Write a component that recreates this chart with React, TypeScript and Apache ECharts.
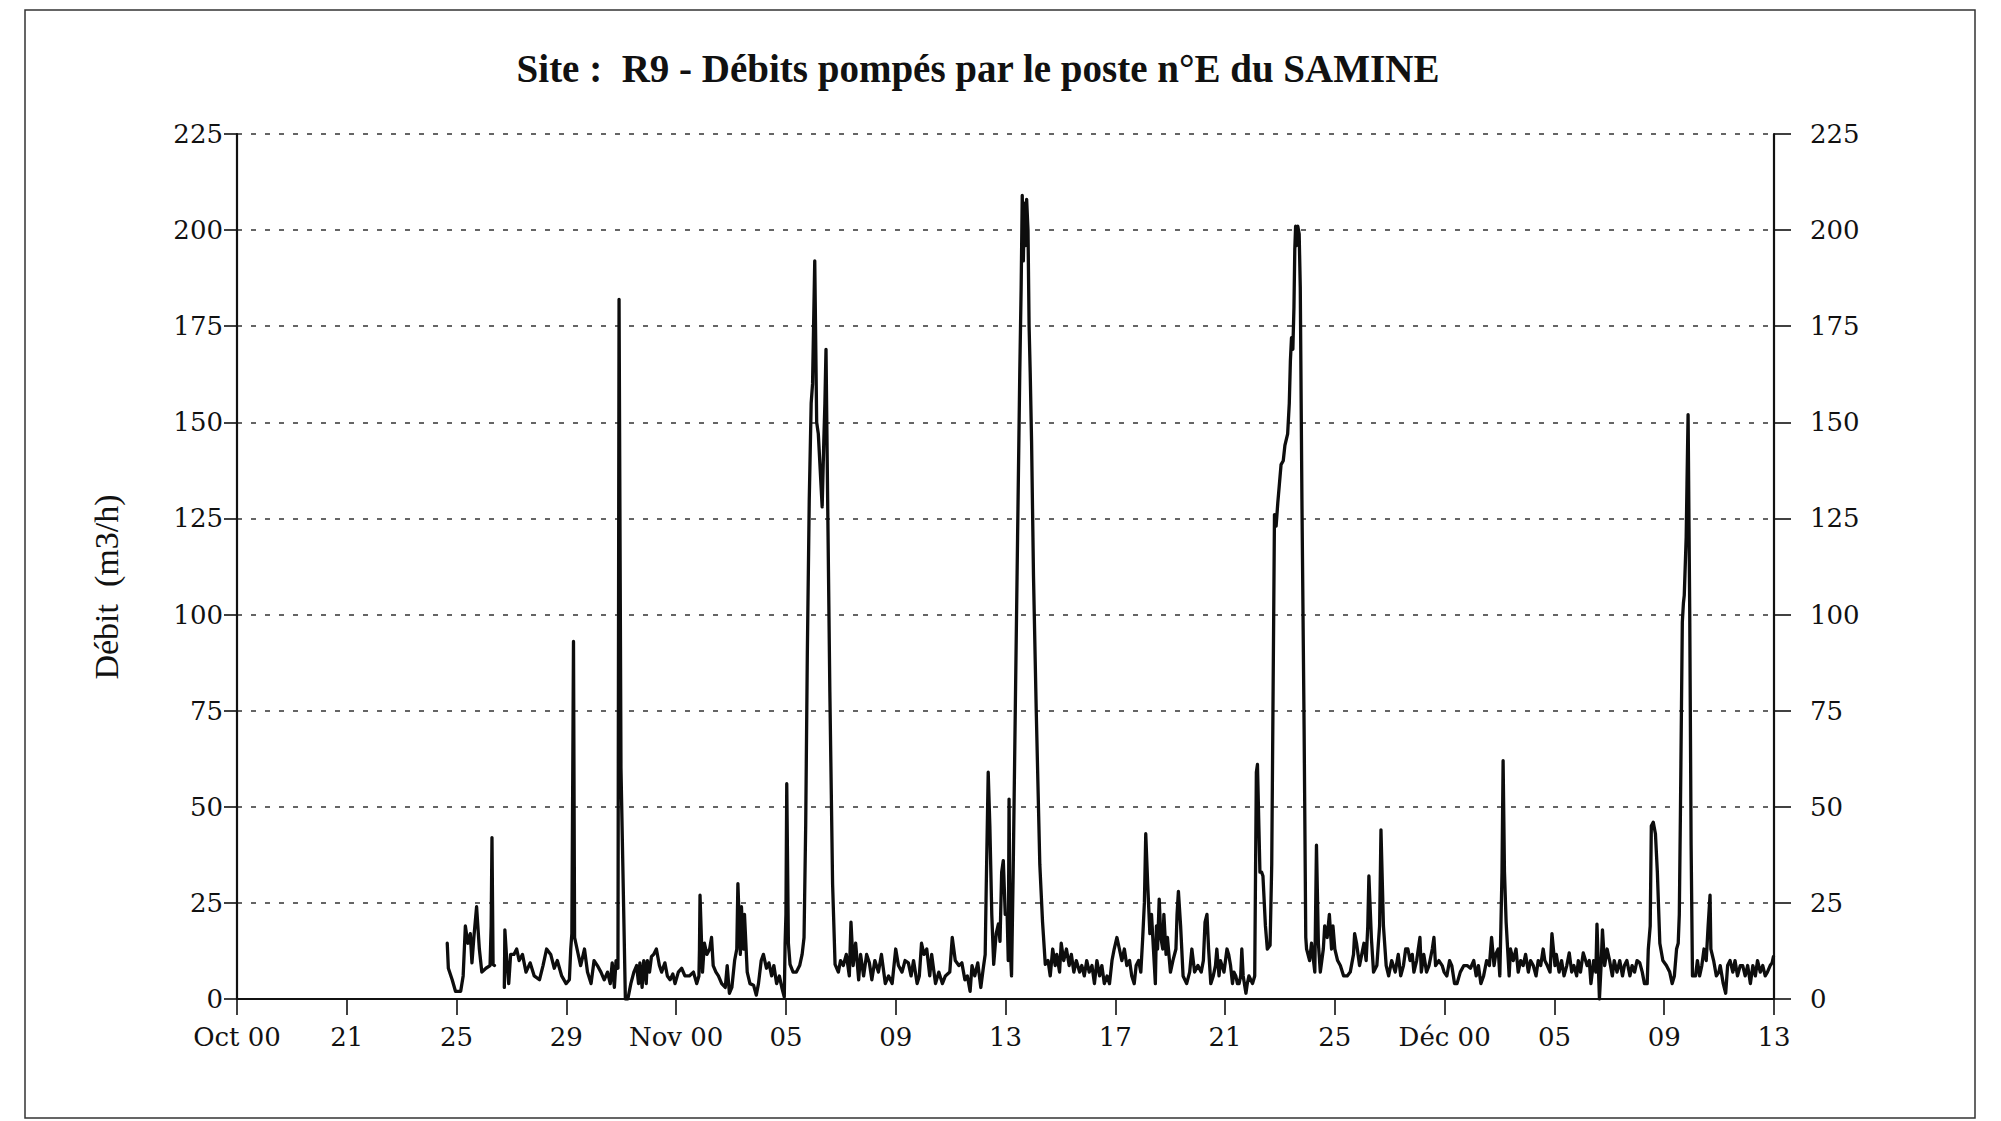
import React, { useEffect, useRef } from "react";
import * as echarts from "echarts";

type Pt = [number, number | null];

// x = days after the "Oct 00" tick (ticks every 4 days), y = débit (m3/h)
const xTickLabels = ["Oct 00", "21", "25", "29", "Nov 00", "05", "09", "13", "17", "21", "25", "Déc 00", "05", "09", "13"];
const yTickStep = 25;
const yTickMax = 225;
const xMax = 56;

const lateOctober: Pt[] = [
  [7.66, 14.5], [7.70, 8], [7.84, 5], [7.96, 2], [8.15, 2], [8.24, 6], [8.32, 19], [8.41, 14.5], [8.50, 17],
  [8.56, 9.4], [8.63, 16], [8.73, 24], [8.83, 13], [8.92, 7], [9.07, 8], [9.22, 8.7], [9.26, 19], [9.29, 42],
  [9.33, 9], [9.38, 8.7], [9.55, null],
  [9.74, 3], [9.76, 18], [9.83, 10], [9.90, 4], [9.97, 11.6], [10.09, 11.6], [10.19, 13], [10.28, 10], [10.40, 11.6],
  [10.53, 7], [10.68, 9.4], [10.83, 6], [11.02, 5], [11.15, 8.7], [11.28, 13], [11.43, 11.6], [11.56, 8], [11.67, 10],
  [11.83, 6], [11.99, 4], [12.11, 5], [12.16, 13], [12.20, 17], [12.26, 93], [12.30, 16], [12.39, 13], [12.52, 8.7],
  [12.66, 13], [12.77, 7], [12.90, 4], [13.01, 10], [13.13, 8.7], [13.26, 7], [13.38, 5], [13.50, 7], [13.60, 4],
  [13.67, 9.4], [13.75, 3], [13.81, 10], [13.88, 8], [13.92, 182], [13.99, 60], [14.15, 0], [14.24, 0], [14.35, 4],
];

const earlyNovember: Pt[] = [
  [14.46, 7], [14.56, 8.7], [14.63, 4], [14.68, 9.4], [14.76, 3], [14.82, 10], [14.91, 4], [14.95, 10], [15.03, 7],
  [15.10, 11], [15.18, 11.6], [15.28, 13], [15.39, 8.7], [15.47, 7], [15.59, 9.4], [15.68, 6], [15.78, 5], [15.88, 6.5],
  [15.96, 4], [16.08, 7], [16.20, 8], [16.32, 6], [16.48, 6], [16.63, 7], [16.75, 4], [16.83, 6], [16.85, 13],
  [16.87, 27], [16.96, 7], [17.03, 14.5], [17.12, 11.6], [17.22, 13], [17.29, 16], [17.35, 8.7], [17.45, 7], [17.54, 6],
  [17.66, 4], [17.79, 3], [17.86, 8.7], [17.94, 1.5], [18.03, 3], [18.13, 10], [18.21, 13], [18.25, 30], [18.34, 11.6],
  [18.38, 24], [18.45, 13], [18.49, 22], [18.59, 7], [18.69, 4], [18.82, 3.6], [18.92, 1], [19.00, 4], [19.10, 10],
  [19.18, 11.6], [19.29, 8], [19.38, 9.4], [19.48, 6], [19.56, 8.7], [19.66, 4], [19.76, 6], [19.85, 3], [19.94, 0.5],
  [19.97, 14.5], [20.00, 22], [20.03, 56], [20.09, 14.5], [20.15, 9], [20.26, 7], [20.38, 7], [20.50, 8.7], [20.59, 11.6],
  [20.66, 16], [20.72, 45], [20.78, 90], [20.85, 130], [20.92, 155], [20.97, 160], [21.05, 192], [21.12, 150],
  [21.18, 147], [21.32, 128], [21.38, 145], [21.42, 155], [21.46, 169], [21.52, 130], [21.60, 80], [21.70, 30], [21.79, 9],
];

const midNovember: Pt[] = [
  [21.91, 7], [21.99, 10], [22.09, 8.7], [22.20, 11.6], [22.31, 6], [22.37, 20], [22.45, 8.7], [22.54, 14.5], [22.65, 5],
  [22.72, 11.6], [22.83, 6], [22.94, 11.6], [23.04, 9.4], [23.13, 5], [23.24, 10], [23.37, 7], [23.48, 11.6], [23.62, 4],
  [23.74, 6], [23.87, 4], [24.00, 13], [24.10, 8.7], [24.23, 7], [24.34, 10], [24.46, 9.4], [24.56, 6], [24.65, 10],
  [24.78, 4], [24.86, 6], [24.94, 14.5], [25.03, 11.6], [25.13, 13], [25.24, 6], [25.31, 11.6], [25.45, 4], [25.57, 7],
  [25.70, 4], [25.81, 6], [25.97, 7], [26.06, 16], [26.17, 10], [26.30, 8.7], [26.41, 9.4], [26.52, 5], [26.61, 6],
  [26.71, 2], [26.78, 8.7], [26.88, 6], [26.99, 9.4], [27.10, 3], [27.19, 8], [27.26, 11.6], [27.30, 30], [27.37, 59],
  [27.43, 45], [27.50, 22], [27.57, 9], [27.66, 17], [27.74, 19.5], [27.80, 15], [27.86, 33], [27.92, 36], [27.99, 22],
  [28.06, 22], [28.10, 10], [28.13, 52], [28.17, 14], [28.22, 6], [28.28, 33], [28.36, 77], [28.44, 120], [28.52, 163],
  [28.57, 185], [28.61, 209], [28.65, 192], [28.69, 207], [28.73, 196], [28.77, 208], [28.82, 200], [28.86, 175],
  [28.90, 163], [28.95, 145], [29.02, 110], [29.12, 75], [29.25, 35], [29.35, 20], [29.45, 9],
];

const lateNovember: Pt[] = [
  [29.55, 10], [29.63, 6], [29.72, 13], [29.81, 8.7], [29.87, 11.6], [29.97, 7], [30.03, 14.5], [30.12, 10], [30.22, 13],
  [30.32, 8.7], [30.40, 11.6], [30.49, 7], [30.58, 10], [30.70, 7], [30.78, 8.7], [30.87, 6], [30.96, 10], [31.05, 7],
  [31.15, 8.7], [31.24, 4], [31.33, 10], [31.43, 6], [31.51, 8.7], [31.60, 4], [31.70, 6], [31.79, 4], [31.88, 10],
  [31.96, 13], [32.06, 16], [32.15, 13], [32.24, 10], [32.33, 13], [32.42, 8.7], [32.52, 10], [32.60, 6], [32.69, 4],
  [32.76, 8.7], [32.85, 10], [32.93, 7], [33.00, 16], [33.06, 25], [33.11, 43], [33.18, 30], [33.26, 17], [33.32, 22],
  [33.39, 13], [33.46, 4], [33.50, 19], [33.54, 13], [33.60, 26], [33.66, 16], [33.73, 13], [33.77, 22], [33.85, 11.6],
  [33.90, 16], [34.01, 7], [34.10, 10], [34.21, 13], [34.25, 22], [34.30, 28], [34.38, 19], [34.47, 6], [34.60, 4],
  [34.71, 7], [34.79, 13], [34.89, 7], [35.01, 8.7], [35.13, 7], [35.21, 10], [35.27, 20], [35.34, 22], [35.40, 13],
  [35.48, 4], [35.57, 6], [35.65, 8.7], [35.70, 13], [35.78, 6], [35.83, 10], [35.89, 8.7], [35.96, 7], [36.07, 13],
  [36.13, 11.6], [36.20, 8.7], [36.27, 4], [36.32, 7], [36.39, 6], [36.45, 4], [36.51, 4], [36.57, 6], [36.61, 13],
  [36.66, 6], [36.76, 1.5], [36.81, 4], [36.87, 6], [37.00, 4], [37.08, 6], [37.11, 33], [37.14, 59], [37.18, 61],
  [37.27, 33], [37.33, 33], [37.38, 32], [37.47, 19], [37.54, 13], [37.64, 14], [37.70, 35], [37.75, 80], [37.80, 126],
  [37.86, 123], [37.92, 129], [37.98, 134], [38.04, 139], [38.12, 140], [38.18, 144], [38.28, 147], [38.34, 155],
  [38.38, 166], [38.42, 172], [38.47, 169], [38.51, 180], [38.54, 195], [38.57, 201], [38.61, 196], [38.65, 201],
  [38.70, 199], [38.74, 185], [38.80, 130], [38.88, 70], [38.94, 16],
];

const endNovember: Pt[] = [
  [38.97, 13], [39.08, 10], [39.15, 14.5], [39.27, 7], [39.33, 40], [39.40, 14.5], [39.47, 7], [39.58, 13], [39.63, 19],
  [39.72, 16], [39.80, 22], [39.88, 13], [39.93, 19], [40.00, 13], [40.10, 10], [40.20, 8.7], [40.32, 6], [40.45, 6],
  [40.56, 7], [40.68, 11.6], [40.72, 17], [40.79, 14.5], [40.90, 8.7], [40.98, 11.6], [41.06, 14.5], [41.14, 10],
  [41.20, 19], [41.24, 32], [41.33, 16], [41.41, 7], [41.53, 8.7], [41.63, 19], [41.68, 44], [41.77, 19], [41.87, 8.7],
  [41.96, 6], [42.07, 10], [42.20, 7], [42.31, 11.6], [42.40, 6], [42.50, 8.7], [42.58, 13], [42.66, 13], [42.74, 10],
  [42.82, 11.6], [42.88, 7], [42.98, 10], [43.10, 16], [43.15, 7], [43.24, 11.6], [43.34, 7], [43.43, 8.7], [43.55, 13],
  [43.61, 16], [43.67, 8.7], [43.79, 10], [43.91, 8.7], [43.98, 7],
];

const december: Pt[] = [
  [44.08, 6], [44.18, 10], [44.26, 8.7], [44.36, 4], [44.45, 4], [44.57, 7], [44.70, 8.7], [44.82, 8.7], [44.94, 8],
  [45.06, 10], [45.15, 6], [45.23, 8.7], [45.32, 4], [45.42, 6], [45.53, 10], [45.63, 8.7], [45.71, 16], [45.80, 8.7],
  [45.86, 11.6], [45.95, 13], [46.01, 6], [46.05, 19], [46.09, 33], [46.13, 62], [46.18, 33], [46.24, 20], [46.35, 6],
  [46.40, 13], [46.50, 10], [46.60, 13], [46.68, 7], [46.77, 10], [46.86, 8.7], [46.95, 11.6], [47.05, 7], [47.13, 10],
  [47.23, 8.7], [47.33, 6], [47.41, 10], [47.50, 8.7], [47.59, 13], [47.65, 10], [47.74, 8.7], [47.84, 7], [47.91, 17],
  [48.02, 8.7], [48.07, 11.6], [48.17, 7], [48.26, 10], [48.35, 6], [48.45, 8.7], [48.54, 12], [48.63, 7], [48.71, 8.7],
  [48.81, 6], [48.87, 10], [48.95, 7], [49.05, 12], [49.19, 8.7], [49.27, 10], [49.33, 4], [49.43, 10], [49.51, 7],
  [49.55, 19.5], [49.64, 0], [49.70, 8.7], [49.75, 18], [49.83, 8.7], [49.92, 13], [50.01, 10], [50.11, 6], [50.18, 10],
  [50.28, 7], [50.38, 10], [50.48, 6], [50.55, 8.7], [50.64, 10], [50.75, 6], [50.83, 8.7], [50.92, 7], [51.01, 10],
  [51.11, 9.4], [51.20, 7], [51.28, 4], [51.38, 4], [51.42, 13], [51.49, 19], [51.53, 45], [51.60, 46], [51.68, 43],
  [51.75, 33], [51.84, 14.5], [51.95, 10], [52.08, 8.7], [52.20, 7], [52.29, 4], [52.37, 6], [52.45, 13], [52.51, 14.5],
  [52.55, 22], [52.59, 48], [52.63, 77], [52.66, 98], [52.70, 103], [52.73, 105], [52.80, 120], [52.83, 134],
  [52.87, 152], [52.93, 100], [52.98, 40], [53.03, 6], [53.14, 6], [53.21, 10], [53.29, 6], [53.37, 8.7], [53.45, 13],
  [53.53, 10], [53.60, 19], [53.67, 27], [53.70, 13], [53.80, 10], [53.90, 6], [53.99, 7], [54.04, 8.7], [54.15, 4],
  [54.24, 1.5], [54.31, 8.7], [54.40, 10], [54.50, 7], [54.58, 10], [54.67, 6], [54.77, 8.7], [54.86, 8.7], [54.95, 6],
  [55.04, 8.7], [55.14, 4], [55.23, 8.7], [55.32, 6], [55.40, 10], [55.50, 7], [55.59, 8.7], [55.68, 6], [55.76, 7],
  [55.86, 8.7], [55.93, 9.4], [55.98, 11],
];

const flowSeries: Pt[] = [
  ...lateOctober,
  ...earlyNovember,
  ...midNovember,
  ...lateNovember,
  ...endNovember,
  ...december,
];

const titleText = "Site :  R9 - Débits pompés par le poste n°E du SAMINE";
const yName = "Débit  (m3/h)";

export default function App() {
  const ref = useRef<HTMLDivElement>(null);

  useEffect(() => {
    if (!ref.current) return;
    const chart = echarts.init(ref.current, null, { renderer: "svg" });
    const ink = "#111111";
    const tickFont = "DejaVu Serif";
    chart.setOption({
      animation: false,
      backgroundColor: "#ffffff",
      grid: { left: 237, right: 227, top: 134, bottom: 122, containLabel: false },
      xAxis: {
        type: "value",
        min: 0,
        max: xMax,
        interval: 4,
        axisLine: { show: true, lineStyle: { color: ink, width: 2.2 } },
        axisTick: { show: true, inside: false, length: 16, lineStyle: { color: ink, width: 1.6 } },
        axisLabel: {
          show: true,
          margin: 25,
          fontFamily: tickFont,
          fontSize: 26,
          color: ink,
          showMinLabel: true,
          showMaxLabel: true,
          hideOverlap: false,
          formatter: (v: number) => xTickLabels[Math.round(v / 4)] ?? "",
        },
        splitLine: { show: false },
      },
      yAxis: [
        {
          type: "value",
          position: "left",
          min: 0,
          max: yTickMax,
          interval: yTickStep,
          axisLine: { show: true, lineStyle: { color: ink, width: 2.2 } },
          axisTick: { show: true, inside: false, length: 13, lineStyle: { color: ink, width: 1.6 } },
          axisLabel: { margin: 14, fontFamily: tickFont, fontSize: 26, color: ink },
          splitLine: { show: true, lineStyle: { type: [5, 9], color: "#333", width: 1.6 } },
        },
        {
          type: "value",
          position: "right",
          min: 0,
          max: yTickMax,
          interval: yTickStep,
          axisLine: { show: true, lineStyle: { color: ink, width: 2.2 } },
          axisTick: { show: true, inside: false, length: 17, lineStyle: { color: ink, width: 1.6 } },
          axisLabel: { margin: 36, fontFamily: tickFont, fontSize: 26, color: ink },
          splitLine: { show: false },
        },
      ],
      series: [
        {
          type: "line",
          yAxisIndex: 0,
          data: flowSeries,
          showSymbol: false,
          symbol: "none",
          connectNulls: false,
          lineStyle: { color: "#0d0d0d", width: 3.3, join: "round", cap: "round" },
          z: 5,
        },
      ],
      graphic: [
        {
          type: "rect",
          shape: { x: 25, y: 10, width: 1950, height: 1108 },
          style: { fill: "none", stroke: "#333", lineWidth: 1.5 },
          silent: true,
        },
        {
          type: "text",
          x: 978,
          y: 68,
          style: {
            text: titleText,
            font: "bold 39px 'Liberation Serif', serif",
            fill: ink,
            textAlign: "center",
            textVerticalAlign: "middle",
            align: "center",
            verticalAlign: "middle",
          },
        },
        {
          type: "text",
          x: 106,
          y: 587,
          rotation: Math.PI / 2,
          style: {
            text: yName,
            font: "34px 'Liberation Serif', serif",
            fill: ink,
            textAlign: "center",
            textVerticalAlign: "middle",
            align: "center",
            verticalAlign: "middle",
          },
        },
      ],
    });
    return () => chart.dispose();
  }, []);

  return (
    <div
      ref={ref}
      style={{ position: "fixed", left: 0, top: 0, width: 2001, height: 1121, background: "#fff" }}
    />
  );
}
